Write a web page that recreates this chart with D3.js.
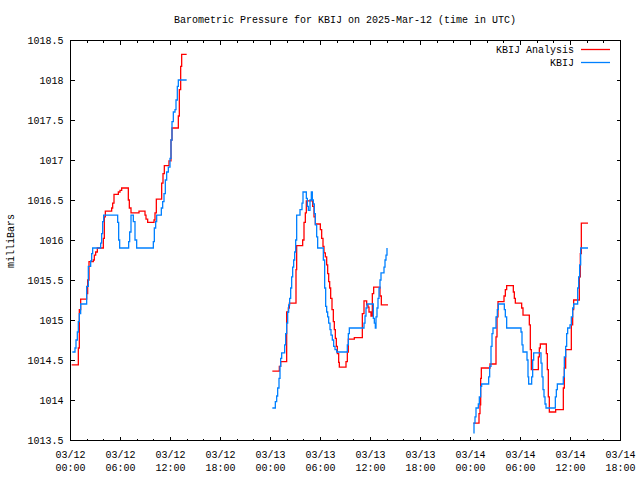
<!DOCTYPE html>
<html><head><meta charset="utf-8">
<script src="https://cdn.jsdelivr.net/npm/d3@7"></script>
<style>
body{margin:0;background:#fff}
text{font-family:"Liberation Mono","DejaVu Sans Mono",monospace;font-size:10px;fill:#000}
</style>
</head><body><svg id="c" width="640" height="480"></svg>
<script>
// ---------- data (hours since 2025-03-12 00:00 UTC, millibars; null = gap) ----------
const startUTC = Date.UTC(2025, 2, 12, 0, 0);
const endUTC = Date.UTC(2025, 2, 14, 18, 0);

const analysisHours = [
  0.2,1.0,1.12,1.28,2.0,2.12,2.28,2.8,2.92,3.08,3.28,4.0,4.12,4.24,5.0,5.12,5.28,5.8,6.0,6.2,7.0,7.12,7.32,8.28,9.0,9.12,9.32,10.08,10.2,10.36,11.0,11.16,11.32,11.88,12.12,12.24,13.0,13.12,13.28,13.4,14.0,
  null,
  24.28,25.12,25.28,26.0,26.2,26.32,27.12,27.2,27.92,28.08,28.24,28.36,29.12,29.28,29.44,30.04,30.2,30.36,30.48,30.64,30.8,30.92,31.04,31.16,31.28,31.44,31.6,31.72,31.84,31.96,32.08,32.24,32.32,33.12,33.28,33.4,34.12,34.28,35.08,35.28,35.6,35.76,35.88,36.12,36.28,36.44,37.2,37.36,38.16,
  null,
  48.4,49.08,49.2,49.28,49.36,50.4,51.12,51.24,51.36,52.08,52.24,52.4,53.2,53.32,53.44,54.2,54.36,55.12,55.24,55.36,56.2,56.32,56.44,57.16,57.28,57.4,57.52,58.28,59.2,59.32,59.48,60.16,60.32,60.44,61.12,61.24,61.36,62.16
];
const analysisMb = [
  1014.44,1014.65,1015.13,1015.26,1015.33,1015.5,1015.73,1015.75,1015.81,1015.85,1015.9,1016.02,1016.29,1016.36,1016.4,1016.46,1016.57,1016.6,1016.62,1016.65,1016.5,1016.4,1016.34,1016.36,1016.31,1016.26,1016.22,1016.25,1016.34,1016.51,1016.71,1016.83,1016.93,1016.99,1017.25,1017.4,1017.55,1017.88,1018.17,1018.32,1018.32,
  null,
  1014.36,1014.42,1014.48,1015.1,1015.15,1015.21,1015.63,1015.93,1016.0,1016.22,1016.34,1016.49,1016.42,1016.29,1016.2,1016.13,1016.02,1015.92,1015.84,1015.79,1015.69,1015.58,1015.48,1015.4,1015.27,1015.13,1014.98,1014.88,1014.77,1014.67,1014.58,1014.47,1014.41,1014.48,1014.6,1014.76,1014.78,1014.78,1015.08,1015.24,1015.19,1015.16,1015.1,1015.05,1015.33,1015.41,1015.3,1015.19,1015.19,
  null,
  1013.71,1013.83,1013.94,1014.27,1014.4,1014.45,1014.79,1015.04,1015.23,1015.3,1015.38,1015.43,1015.35,1015.27,1015.21,1015.15,1015.06,1014.94,1014.63,1014.38,1014.54,1014.65,1014.7,1014.58,1014.38,1014.04,1013.85,1013.88,1014.15,1014.4,1014.63,1014.94,1015.13,1015.25,1015.54,1015.83,1016.21,1016.21
];

const kbijHours = [
  0.28,0.6,0.72,0.88,1.0,1.12,1.28,2.0,2.2,2.48,2.6,2.72,3.68,3.8,3.92,4.04,5.72,5.84,5.96,7.04,7.16,7.32,7.6,7.8,8.0,10.0,10.12,10.28,10.4,10.96,11.12,11.28,11.44,11.6,11.8,12.0,12.12,12.24,12.4,12.6,12.72,12.88,13.0,14.0,
  null,
  24.28,24.64,24.8,24.92,25.08,25.2,25.28,25.4,25.76,25.88,26.0,26.12,26.24,26.36,26.48,26.6,26.72,26.84,26.96,27.08,27.2,27.6,27.84,27.96,28.36,28.48,28.6,28.8,28.96,29.08,29.2,29.32,29.44,29.6,29.72,30.4,30.56,30.68,30.8,30.92,31.04,31.2,31.32,31.48,31.64,31.8,32.0,33.28,33.4,33.52,35.28,35.4,35.52,35.64,36.4,36.52,36.64,36.72,36.84,36.96,37.08,37.2,37.32,37.68,37.8,37.92,38.04,
  null,
  48.4,48.48,48.6,48.72,49.0,49.12,49.28,49.4,50.24,50.36,50.52,50.64,50.76,51.12,51.28,51.4,52.12,52.24,52.4,54.12,54.24,54.36,54.84,54.96,55.04,55.4,55.52,55.64,56.52,56.64,56.76,56.88,57.0,57.12,58.24,58.36,58.48,59.2,59.32,59.48,59.6,59.72,60.0,60.16,60.32,60.44,60.92,61.04,61.16,61.28,62.16
];
const kbijMb = [
  1014.6,1014.65,1014.75,1014.85,1014.98,1015.08,1015.2,1015.42,1015.67,1015.74,1015.83,1015.9,1015.96,1016.08,1016.23,1016.31,1016.22,1016.0,1015.9,1015.98,1016.1,1016.31,1016.23,1016.0,1015.9,1015.98,1016.15,1016.23,1016.31,1016.4,1016.48,1016.58,1016.75,1016.85,1016.91,1017.02,1017.25,1017.48,1017.6,1017.63,1017.75,1017.92,1018.0,1018.0,
  null,
  1013.9,1013.98,1014.05,1014.15,1014.27,1014.42,1014.52,1014.59,1014.69,1014.83,1014.96,1015.1,1015.19,1015.27,1015.4,1015.54,1015.66,1015.75,1015.85,1016.0,1016.31,1016.38,1016.46,1016.6,1016.52,1016.42,1016.37,1016.5,1016.6,1016.5,1016.45,1016.33,1016.19,1016.04,1015.9,1015.75,1015.4,1015.17,1015.1,1015.04,1014.96,1014.88,1014.81,1014.75,1014.67,1014.63,1014.6,1014.69,1014.83,1014.9,1014.96,1015.05,1015.15,1015.2,1015.02,1014.96,1014.9,1015.04,1015.15,1015.27,1015.4,1015.5,1015.59,1015.66,1015.75,1015.81,1015.9,
  null,
  1013.59,1013.71,1013.79,1013.9,1013.95,1014.04,1014.17,1014.2,1014.29,1014.42,1014.67,1014.83,1014.9,1015.04,1015.13,1015.2,1015.13,1015.04,1014.9,1014.85,1014.69,1014.6,1014.5,1014.29,1014.2,1014.29,1014.5,1014.59,1014.46,1014.29,1014.13,1014.04,1013.95,1013.9,1014.04,1014.13,1014.2,1014.29,1014.54,1014.67,1014.83,1014.9,1014.94,1015.04,1015.15,1015.2,1015.4,1015.54,1015.69,1015.9,1015.9
];

const seriesNames = ["KBIJ Analysis", "KBIJ"];
const seriesColors = ["#ff0000", "#0080ff"];
const titleText = "Barometric Pressure for KBIJ on 2025-Mar-12 (time in UTC)";
const yLabelText = "milliBars";
const yTickValues = [1013.5,1014,1014.5,1015,1015.5,1016,1016.5,1017,1017.5,1018,1018.5];
const majorTickHours = [0,6,12,18,24,30,36,42,48,54,60,66];
const minorTickHours = [2,4,8,10,14,16,20,22,26,28,32,34,38,40,44,46,50,52,56,58,62,64];

// ---------- layout ----------
const L = 70, R = 620, T = 40, B = 440;
const svg = d3.select("#c");
const toDate = h => new Date(startUTC + h * 3600e3);

const x = d3.scaleUtc().domain([new Date(startUTC), new Date(endUTC)]).range([L, R]);
const y = d3.scaleLinear().domain([1013.5, 1018.5]).range([B, T]);

// title
svg.append("text").attr("x", 345).attr("y", 23).attr("text-anchor", "middle").text(titleText);

// y label
svg.append("text").attr("transform", "translate(14,241) rotate(-90)")
  .attr("text-anchor", "middle").text(yLabelText);

// ---------- series ----------
function mkData(hours, vals) {
  return hours.map((h, i) => ({ t: h === null ? null : toDate(h), v: vals[i] }));
}
const series = [mkData(analysisHours, analysisMb), mkData(kbijHours, kbijMb)];
const line = d3.line()
  .defined(d => d.t !== null && d.v !== null)
  .x(d => x(d.t)).y(d => y(d.v))
  .curve(d3.curveStepAfter);

const plot = svg.append("g");
series.forEach((s, i) => {
  plot.append("path").datum(s)
    .attr("fill", "none").attr("stroke", seriesColors[i])
    .attr("stroke-width", 1.3)
    .attr("d", line);
});

// ---------- axes ----------
const fmtY = v => String(+v.toFixed(1));
const axes = svg.append("g").attr("shape-rendering", "crispEdges");

function styleAxis(g) {
  g.select(".domain").remove();
  g.selectAll(".tick line").attr("stroke", "#000");
  g.selectAll("text").attr("fill", "#000").attr("font-size", null).attr("font-family", null);
}

// bottom major with labels
const bottom = axes.append("g").attr("transform", `translate(0,${B + 0.5})`)
  .call(d3.axisBottom(x).tickValues(majorTickHours.map(toDate))
    .tickSizeInner(-4).tickSizeOuter(0).tickPadding(10)
    .tickFormat(d3.utcFormat("%m/%d|%H:%M")));
styleAxis(bottom);
bottom.selectAll(".tick text").each(function() {
  const parts = d3.select(this).text().split("|");
  const t = d3.select(this).text(null).attr("y", 0).attr("dy", null);
  t.append("tspan").attr("x", 0).attr("y", 17).text(parts[0]);
  t.append("tspan").attr("x", 0).attr("y", 30).text(parts[1]);
});
// bottom minor
styleAxis(axes.append("g").attr("transform", `translate(0,${B + 0.5})`)
  .call(d3.axisBottom(x).tickValues(minorTickHours.map(toDate))
    .tickSizeInner(-2).tickSizeOuter(0).tickFormat("")));
// top major + minor
styleAxis(axes.append("g").attr("transform", `translate(0,${T + 0.5})`)
  .call(d3.axisTop(x).tickValues(majorTickHours.map(toDate))
    .tickSizeInner(-4).tickSizeOuter(0).tickFormat("")));
styleAxis(axes.append("g").attr("transform", `translate(0,${T + 0.5})`)
  .call(d3.axisTop(x).tickValues(minorTickHours.map(toDate))
    .tickSizeInner(-2).tickSizeOuter(0).tickFormat("")));
// left with labels
const left = axes.append("g").attr("transform", `translate(${L + 0.5},0)`)
  .call(d3.axisLeft(y).tickValues(yTickValues)
    .tickSizeInner(-4).tickSizeOuter(0).tickPadding(7).tickFormat(fmtY));
styleAxis(left);
// right
styleAxis(axes.append("g").attr("transform", `translate(${R + 0.5},0)`)
  .call(d3.axisRight(y).tickValues(yTickValues)
    .tickSizeInner(-4).tickSizeOuter(0).tickFormat("")));

// frame
axes.append("rect").attr("x", L + 0.5).attr("y", T + 0.5)
  .attr("width", R - L).attr("height", B - T)
  .attr("fill", "none").attr("stroke", "#000");

// ---------- legend ----------
const legend = svg.append("g");
seriesNames.forEach((name, i) => {
  const ly = 49 + i * 13;
  legend.append("text").attr("x", 574).attr("y", ly + 4).attr("text-anchor", "end").text(name);
  legend.append("line").attr("x1", 581).attr("x2", 610).attr("y1", ly + 0.5).attr("y2", ly + 0.5)
    .attr("stroke", seriesColors[i]).attr("stroke-width", 1.3);
});
</script>
</body></html>
